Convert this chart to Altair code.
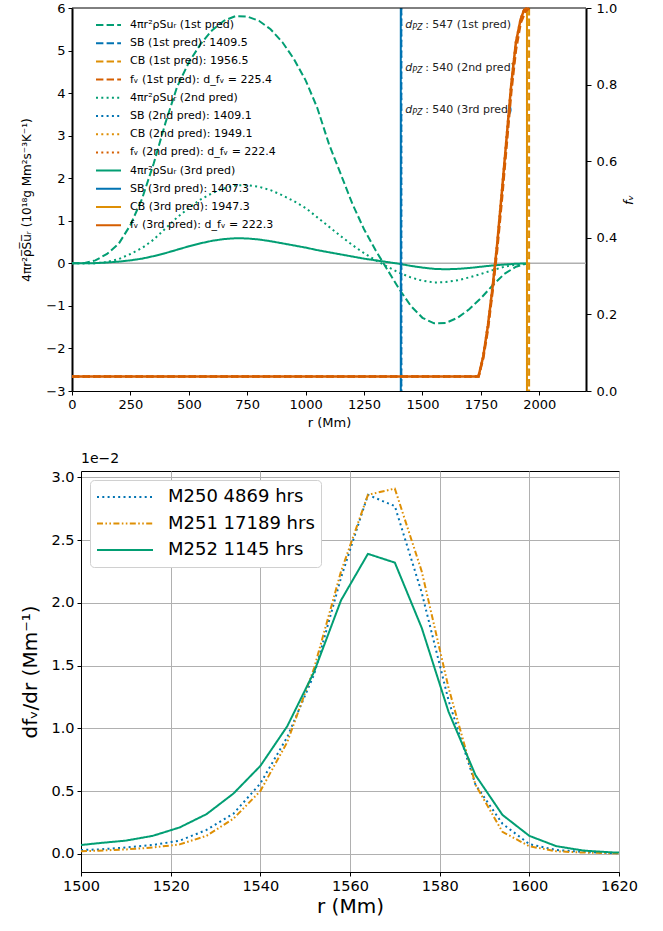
import altair as alt
import pandas as pd

FONT = "DejaVu Sans"
GREEN, BLUE, ORANGE, VERM = "#029e73", "#0173b2", "#de8f05", "#d55e00"
DASHED, DOTTED, SOLID = [7.4, 3.2], [2, 3.3], [1, 0]

# ---------------- top panel data ----------------
preds = ["1st pred", "2nd pred", "3rd pred"]
r_flux = [0, 50, 100, 150, 200, 250, 300, 350, 400, 450, 500, 550, 600, 650, 700,
          750, 800, 850, 900, 950, 1000, 1050, 1100, 1150, 1200, 1250, 1300, 1350,
          1400, 1450, 1500, 1550, 1600, 1650, 1700, 1750, 1800, 1850, 1900, 1950]
flux_1st = [0.0, 0.0, 0.07, 0.22, 0.46, 0.9, 1.52, 2.35, 3.3, 4.15, 4.72, 5.15, 5.48,
            5.7, 5.81, 5.8, 5.7, 5.5, 5.2, 4.8, 4.3, 3.65, 2.8, 2.1, 1.4, 0.8, 0.3,
            -0.15, -0.6, -1.0, -1.28, -1.41, -1.4, -1.28, -1.08, -0.82, -0.52, -0.25,
            -0.08, 0.0]
flux_2nd = [0.0, 0.0, 0.0, 0.03, 0.1, 0.22, 0.36, 0.56, 0.82, 1.08, 1.3, 1.5, 1.65,
            1.76, 1.83, 1.84, 1.8, 1.72, 1.6, 1.46, 1.3, 1.08, 0.86, 0.64, 0.43, 0.24,
            0.07, -0.08, -0.22, -0.33, -0.41, -0.45, -0.44, -0.4, -0.33, -0.25, -0.16,
            -0.08, -0.03, 0.0]
flux_3rd = [0.0, 0.0, 0.005, 0.02, 0.04, 0.07, 0.11, 0.17, 0.24, 0.32, 0.4, 0.47, 0.53,
            0.57, 0.59, 0.585, 0.56, 0.52, 0.47, 0.42, 0.37, 0.31, 0.26, 0.21, 0.16,
            0.11, 0.07, 0.03, -0.01, -0.06, -0.1, -0.13, -0.14, -0.13, -0.11, -0.08,
            -0.05, -0.03, -0.01, 0.0]

sb_r = [1409.5, 1409.1, 1407.3]
cb_r = [1956.5, 1949.1, 1947.3]
d_fv = [225.4, 222.4, 222.3]
d_pz = [547, 540, 540]

fv_r_1st = [0, 1740, 1760, 1780, 1800, 1820, 1840, 1860, 1880, 1900, 1920, 1940, 1956.5]
fv_1st = [0.038, 0.038, 0.085, 0.16, 0.26, 0.37, 0.5, 0.64, 0.78, 0.89, 0.96, 0.99, 1.0]
fv_r_23 = [0, 1740, 1760, 1780, 1800, 1820, 1840, 1860, 1880, 1900, 1920, 1935, 1947.3]
fv_2nd = [0.038, 0.038, 0.09, 0.17, 0.27, 0.385, 0.52, 0.66, 0.8, 0.91, 0.97, 0.995, 1.0]
fv_3rd = [0.038, 0.038, 0.09, 0.17, 0.27, 0.385, 0.52, 0.66, 0.8, 0.91, 0.97, 0.995, 1.0]

ann_r = [1426, 1426, 1426]
ann_y = [5.6, 4.6, 3.6]

# ---------------- bottom panel data ----------------
r_bot = [1500, 1504, 1510, 1516, 1522, 1528, 1534, 1540, 1546, 1552, 1558, 1564, 1570,
         1576, 1582, 1588, 1594, 1600, 1606, 1612, 1618, 1620]
m250 = [0.03, 0.035, 0.05, 0.07, 0.105, 0.19, 0.32, 0.56, 0.93, 1.43, 2.2, 2.86, 2.77,
        2.08, 1.22, 0.55, 0.24, 0.077, 0.03, 0.015, 0.006, 0.005]
m251 = [0.02, 0.025, 0.035, 0.05, 0.075, 0.143, 0.28, 0.5, 0.89, 1.48, 2.25, 2.86, 2.91,
        2.25, 1.32, 0.55, 0.175, 0.06, 0.02, 0.01, 0.005, 0.005]
m252 = [0.07, 0.085, 0.105, 0.143, 0.21, 0.316, 0.48, 0.7, 1.016, 1.45, 2.02, 2.39, 2.32,
        1.8, 1.13, 0.626, 0.31, 0.143, 0.061, 0.026, 0.012, 0.01]
models = ["M250 4869 hrs", "M251 17189 hrs", "M252 1145 hrs"]

# ---------------- build top ----------------
flux_labels = [f"4πr²ρSuᵣ ({p})" for p in preds]
sb_labels = [f"SB ({p}): {v}" for p, v in zip(preds, sb_r)]
cb_labels = [f"CB ({p}): {v}" for p, v in zip(preds, cb_r)]
fv_labels = [f"fᵥ ({p}): d_fᵥ = {v}" for p, v in zip(preds, d_fv)]

legend_domain = []
for i in range(3):
    legend_domain += [flux_labels[i], sb_labels[i], cb_labels[i], fv_labels[i]]
legend_colors = [GREEN, BLUE, ORANGE, VERM] * 3
legend_dashes = [DASHED] * 4 + [DOTTED] * 4 + [SOLID] * 4

rows = []
for lab, vals in zip(flux_labels, [flux_1st, flux_2nd, flux_3rd]):
    rows += [{"r": r, "val": v, "label": lab} for r, v in zip(r_flux, vals)]
flux_df = pd.DataFrame(rows)
sb_df = pd.DataFrame({"r": sb_r, "label": sb_labels})
cb_df = pd.DataFrame({"r": cb_r, "label": cb_labels})
rows = []
for lab, rr, vals in zip(fv_labels, [fv_r_1st, fv_r_23, fv_r_23], [fv_1st, fv_2nd, fv_3rd]):
    rows += [{"r": r, "fv": v, "label": lab} for r, v in zip(rr, vals)]
fv_df = pd.DataFrame(rows)
ann_df = pd.DataFrame({"r": ann_r, "val": ann_y,
                       "txt": [f": {v} ({p})" for v, p in zip(d_pz, preds)]})
zero_df = pd.DataFrame({"val": [0]})

top_legend = alt.Legend(title=None, orient="none", legendX=14, legendY=9, padding=0,
                        symbolType="stroke", symbolSize=625, symbolStrokeWidth=2,
                        labelFontSize=11, labelFont=FONT, labelColor="black",
                        labelOffset=8, clipHeight=16, rowPadding=2.2)
color_top = alt.Color("label:N", scale=alt.Scale(domain=legend_domain, range=legend_colors),
                      legend=top_legend)
dash_top = alt.StrokeDash("label:N", scale=alt.Scale(domain=legend_domain, range=legend_dashes),
                          legend=top_legend)

# the upper panel starts 9 px left of the lower one: its x range begins at -9
x_scale_top = alt.Scale(domain=[0, 2200], range=[-9, 505], nice=False)
x_top = alt.X("r:Q", scale=x_scale_top,
              axis=alt.Axis(values=[0, 250, 500, 750, 1000, 1250, 1500, 1750, 2000],
                            format="d", title="r (Mm)", labelFontSize=13, titleFontSize=13,
                            tickSize=4, labelPadding=3, titlePadding=5, labelFlush=False))
y_left = alt.Y("val:Q", scale=alt.Scale(domain=[-3, 6], nice=False),
               axis=alt.Axis(values=list(range(-3, 7)), format="d",
                             title="4πr²ρ̅S̅u̅ᵣ (10¹⁸g Mm²s⁻³K⁻¹)",
                             labelFontSize=13, titleFontSize=12, tickSize=4,
                             labelPadding=3, titlePadding=12, domainWidth=2, offset=9))

hline = alt.Chart(zero_df).mark_rule(color="#b0b0b0", strokeWidth=1.5).encode(
    y=y_left, x=alt.datum(0), x2=alt.datum(2200))
top_spine = alt.Chart(zero_df).mark_rule(color="black", strokeWidth=1).encode(
    y=alt.datum(6), x=alt.datum(0), x2=alt.datum(2200))
flux_lines = alt.Chart(flux_df).mark_line(strokeWidth=2).encode(
    x=x_top, y=y_left, color=color_top, strokeDash=dash_top)
sb_rules = alt.Chart(sb_df).mark_rule(strokeWidth=2).encode(
    x=x_top, color=color_top, strokeDash=dash_top)
cb_rules = alt.Chart(cb_df).mark_rule(strokeWidth=2).encode(
    x=x_top, color=color_top, strokeDash=dash_top)
ann_base = alt.Chart(ann_df).encode(x=x_top, y=y_left)
ann_d = ann_base.mark_text(text="d", align="left", fontStyle="italic", fontSize=11,
                           font=FONT, color="#222222")
ann_pz = ann_base.mark_text(text="PZ", align="left", fontStyle="italic", fontSize=8,
                            font=FONT, color="#222222", dx=7, dy=3)
ann_rest = ann_base.mark_text(align="left", fontSize=11, font=FONT, color="#222222",
                              dx=20).encode(text="txt:N")

left_layer = alt.layer(hline, flux_lines, sb_rules, cb_rules, ann_d, ann_pz, ann_rest,
                       top_spine)

y_right = alt.Y("fv:Q", scale=alt.Scale(domain=[0, 1], nice=False),
                axis=alt.Axis(orient="right", values=[0, 0.2, 0.4, 0.6, 0.8, 1.0],
                              format=".1f", title="fᵥ", titleFontStyle="italic",
                              titleAngle=270, labelFontSize=13, titleFontSize=13,
                              tickSize=5, labelPadding=5, titlePadding=19,
                              domainWidth=2))
fv_lines = alt.Chart(fv_df).mark_line(strokeWidth=2.5).encode(
    x=x_top, y=y_right, color=color_top, strokeDash=dash_top)

top = alt.layer(left_layer, fv_lines).resolve_scale(y="independent").properties(
    width=505, height=383, view=alt.ViewBackground(stroke="transparent"))

# ---------------- build bottom ----------------
rows = []
for lab, vals in zip(models, [m250, m251, m252]):
    rows += [{"r": r, "d": v, "model": lab} for r, v in zip(r_bot, vals)]
bot_df = pd.DataFrame(rows)

bot_legend = alt.Legend(title=None, orient="none", legendX=9, legendY=9, padding=6,
                        symbolType="stroke", symbolSize=3136, symbolStrokeWidth=2,
                        labelFontSize=18, labelFont=FONT, labelColor="black",
                        labelOffset=14, clipHeight=22, rowPadding=4.5,
                        fillColor="white", strokeColor="#d0d0d0", cornerRadius=4)
bottom = alt.Chart(bot_df).mark_line(strokeWidth=2, clip=True).encode(
    x=alt.X("r:Q", scale=alt.Scale(domain=[1500, 1620], nice=False),
            axis=alt.Axis(values=[1500, 1520, 1540, 1560, 1580, 1600, 1620],
                          format="d", title="r (Mm)", grid=True, gridColor="#b0b0b0",
                          labelFontSize=14.5, titleFontSize=20, tickSize=4,
                          labelPadding=3, titlePadding=4, labelFlush=False)),
    y=alt.Y("d:Q", scale=alt.Scale(domain=[-0.145, 3.05], nice=False),
            axis=alt.Axis(values=[0, 0.5, 1.0, 1.5, 2.0, 2.5, 3.0], format=".1f",
                          title="dfᵥ/dr (Mm⁻¹)", grid=True, gridColor="#b0b0b0",
                          labelFontSize=14.5, titleFontSize=20, tickSize=4,
                          labelPadding=3, titlePadding=10)),
    color=alt.Color("model:N", scale=alt.Scale(domain=models, range=[BLUE, ORANGE, GREEN]),
                    legend=bot_legend),
    strokeDash=alt.StrokeDash("model:N", scale=alt.Scale(
        domain=models, range=[DOTTED, [6, 2.4, 1.6, 2.4, 1.6, 2.4], SOLID]),
        legend=bot_legend),
).properties(width=538, height=401,
             title=alt.TitleParams("1e−2", anchor="start", frame="group", fontSize=14,
                                   fontWeight="normal", font=FONT, color="black",
                                   offset=3))

chart = alt.vconcat(alt.hconcat(top), alt.hconcat(bottom), spacing=21).resolve_scale(
    color="independent", strokeDash="independent", x="independent", y="independent"
).resolve_legend(color="independent", strokeDash="independent").properties(
    padding={"left": 20, "top": 1, "right": 5, "bottom": 5}
).configure_view(stroke="black", strokeWidth=1).configure_axis(
    labelFont=FONT, titleFont=FONT, labelColor="black", titleColor="black",
    tickColor="black", domainColor="black", titleFontWeight="normal", grid=False
)

chart.save("out.html", embed_options={"renderer": "svg", "actions": False})
